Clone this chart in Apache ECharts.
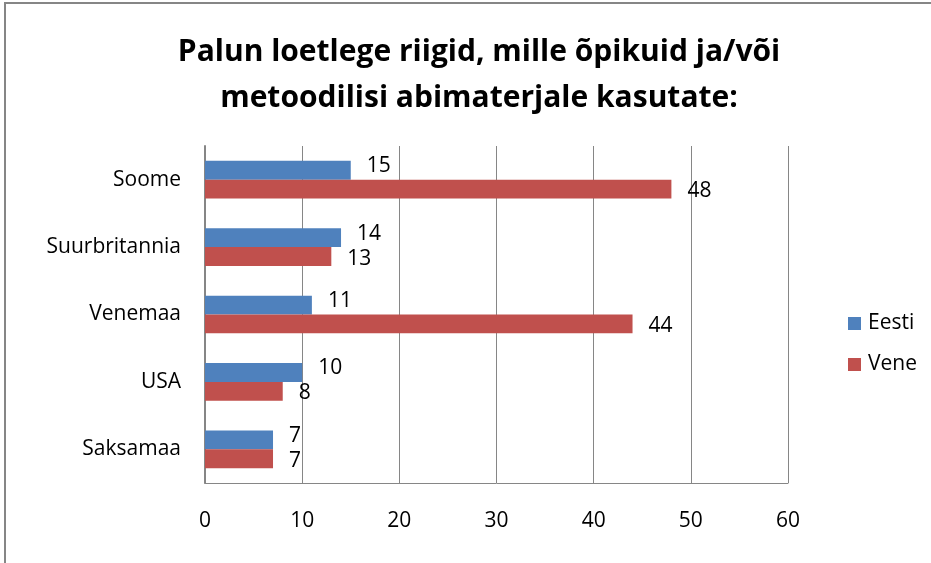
<!DOCTYPE html>
<html>
<head>
<meta charset="utf-8">
<script src="https://cdn.jsdelivr.net/npm/echarts@6/dist/echarts.min.js"></script>
<style>
  html, body { margin: 0; padding: 0; background: #fff; }
  #chart { width: 931px; height: 563px; }
</style>
</head>
<body>
<div id="chart"></div>
<script>
const categories = ['Soome', 'Suurbritannia', 'Venemaa', 'USA', 'Saksamaa'];
const eesti = [15, 14, 11, 10, 7];
const vene = [48, 13, 44, 8, 7];
const xTicks = [0, 10, 20, 30, 40, 50, 60];

const font = "'Open Sans', sans-serif";
const chart = echarts.init(document.getElementById('chart'));

const option = {
  animation: false,
  backgroundColor: '#fff',
  title: {
    text: 'Palun loetlege riigid, mille õpikuid ja/või\nmetoodilisi abimaterjale kasutate:',
    left: 474,
    top: 24,
    textAlign: 'center',
    textStyle: { fontFamily: font, fontSize: 30, fontWeight: 'bold', color: '#000', lineHeight: 46 }
  },
  legend: {
    orient: 'vertical',
    left: 843,
    top: 308,
    itemWidth: 13,
    itemHeight: 13,
    itemGap: 20,
    icon: 'rect',
    textStyle: { fontFamily: font, fontSize: 21, color: '#000', padding: [0, 0, 0, 2] },
    data: ['Eesti', 'Vene']
  },
  grid: { left: 205, right: 143, top: 146, bottom: 80 },
  xAxis: {
    type: 'value',
    min: xTicks[0],
    max: xTicks[xTicks.length - 1],
    interval: 10,
    axisLine: { show: true, lineStyle: { color: '#868686', width: 1 } },
    axisTick: { show: false },
    splitLine: { lineStyle: { color: '#868686', width: 1 } },
    axisLabel: { fontFamily: font, fontSize: 21, color: '#000', margin: 28 }
  },
  yAxis: {
    type: 'category',
    inverse: true,
    data: categories,
    axisLine: { show: true, lineStyle: { color: '#868686', width: 2 } },
    axisTick: { show: false },
    axisLabel: { fontFamily: font, fontSize: 21, color: '#000', margin: 24 }
  },
  series: [
    {
      name: 'Eesti',
      type: 'bar',
      data: eesti,
      barGap: '0%',
      barCategoryGap: '44%',
      itemStyle: { color: '#4f81bd' },
      label: { show: true, position: 'right', distance: 16, offset: [0, -4], fontFamily: font, fontSize: 21, color: '#000' }
    },
    {
      name: 'Vene',
      type: 'bar',
      data: vene,
      itemStyle: { color: '#c0504d' },
      label: { show: true, position: 'right', distance: 16, offset: [0, 2], fontFamily: font, fontSize: 21, color: '#000' }
    }
  ],
  graphic: [
    {
      type: 'rect',
      shape: { x: 5, y: 3, width: 940, height: 580 },
      style: { fill: 'none', stroke: '#868686', lineWidth: 2 },
      silent: true
    }
  ]
};

chart.setOption(option);
</script>
</body>
</html>
